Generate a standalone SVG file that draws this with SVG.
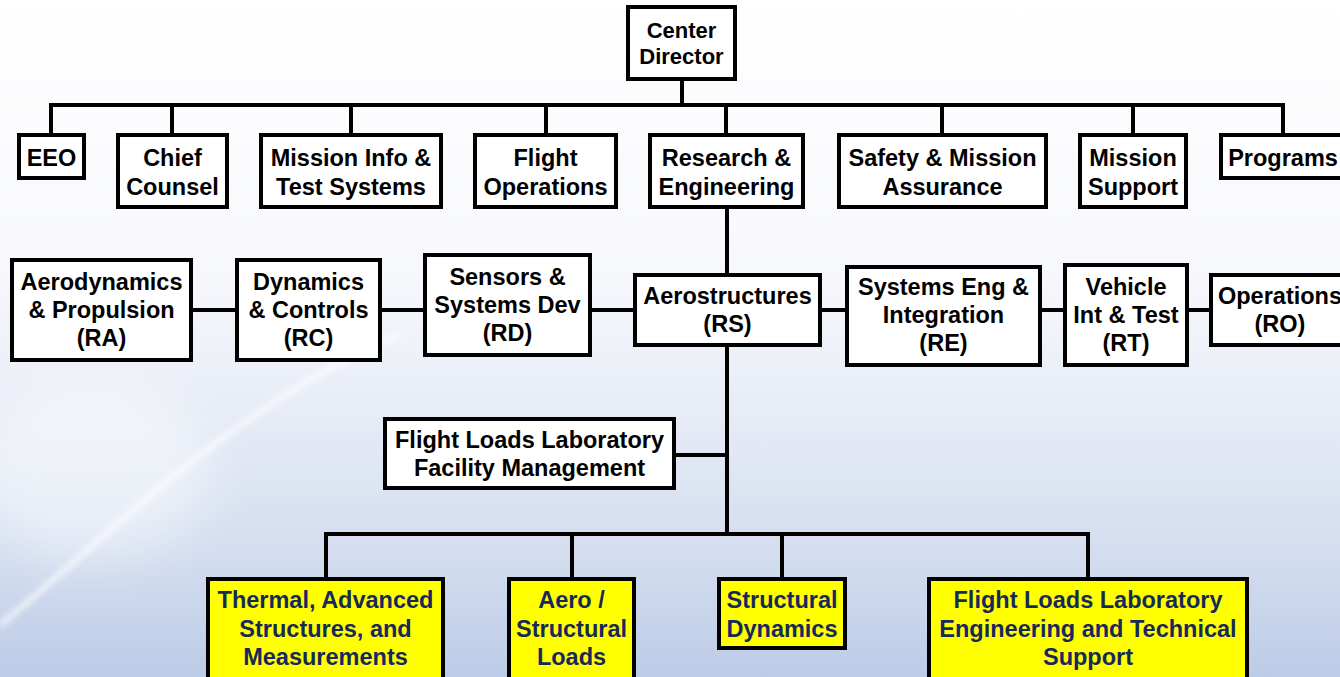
<svg xmlns="http://www.w3.org/2000/svg" width="1340" height="677" viewBox="0 0 1340 677">
<style>
.box{fill:#ffffff;stroke:#000000;stroke-width:4}
.ybox{fill:#ffff00;stroke:#000000;stroke-width:4}
.ln{stroke:#000000;stroke-width:4;fill:none;stroke-linecap:square}
text{font-family:"Liberation Sans",Arial,sans-serif;font-weight:bold;font-size:23.5px;text-anchor:middle;fill:#000000}
.yt{fill:#17295a}
.cd{font-size:22px}
</style>
<defs>
<linearGradient id="bg" x1="0" y1="0" x2="0" y2="1">
<stop offset="0" stop-color="#ffffff"/>
<stop offset="0.4" stop-color="#f7f8fc"/>
<stop offset="0.62" stop-color="#e6ebf5"/>
<stop offset="0.82" stop-color="#d3ddef"/>
<stop offset="1" stop-color="#bccbe7"/>
</linearGradient>
<filter id="blur" x="-20%" y="-20%" width="140%" height="140%"><feGaussianBlur stdDeviation="3"/></filter>
<filter id="blur2" x="-50%" y="-50%" width="200%" height="200%"><feGaussianBlur stdDeviation="25"/></filter>
</defs>
<rect x="0" y="0" width="1340" height="677" fill="url(#bg)"/>
<ellipse cx="90" cy="470" rx="120" ry="90" fill="#ffffff" opacity="0.45" filter="url(#blur2)"/>
<path d="M0,625 C80,560 170,470 270,405 C320,372 360,350 400,335" stroke="#ffffff" stroke-width="5" fill="none" opacity="0.8" filter="url(#blur)"/>

<g id="connectors">
<polyline class="ln" points="682,81 682,105"/>
<polyline class="ln" points="51,133 51,105 1283,105 1283,133"/>
<line class="ln" x1="172" y1="105" x2="172" y2="133"/>
<line class="ln" x1="351" y1="105" x2="351" y2="133"/>
<line class="ln" x1="546" y1="105" x2="546" y2="133"/>
<line class="ln" x1="726" y1="105" x2="726" y2="133"/>
<line class="ln" x1="942" y1="105" x2="942" y2="133"/>
<line class="ln" x1="1133" y1="105" x2="1133" y2="133"/>
<line class="ln" x1="727" y1="209" x2="727" y2="534"/>
<line class="ln" x1="193" y1="310" x2="235" y2="310"/>
<line class="ln" x1="382" y1="310" x2="423" y2="310"/>
<line class="ln" x1="592" y1="310" x2="633" y2="310"/>
<line class="ln" x1="822" y1="310" x2="845" y2="310"/>
<line class="ln" x1="1042" y1="310" x2="1063" y2="310"/>
<line class="ln" x1="1189" y1="310" x2="1209" y2="310"/>
<line class="ln" x1="676" y1="455" x2="727" y2="455"/>
<polyline class="ln" points="326,577 326,534 1088,534 1088,577"/>
<line class="ln" x1="572" y1="534" x2="572" y2="577"/>
<line class="ln" x1="782" y1="534" x2="782" y2="577"/>
</g>

<g id="center-director"><rect class="box" x="628" y="7" width="107" height="72"/><text class="cd" x="681.5" y="38">Center</text><text class="cd" x="681.5" y="64">Director</text></g>

<g id="eeo"><rect class="box" x="19" y="135" width="65" height="43"/><text x="51.5" y="166">EEO</text></g>
<g id="chief-counsel"><rect class="box" x="118" y="135" width="109" height="72"/><text x="172.5" y="166">Chief</text><text x="172.5" y="195">Counsel</text></g>
<g id="mission-info"><rect class="box" x="261" y="135" width="180" height="72"/><text x="351" y="166">Mission Info &amp;</text><text x="351" y="195">Test Systems</text></g>
<g id="flight-operations"><rect class="box" x="475" y="135" width="141" height="72"/><text x="545.5" y="166">Flight</text><text x="545.5" y="195">Operations</text></g>
<g id="research-engineering"><rect class="box" x="650" y="135" width="153" height="72"/><text x="726.5" y="166">Research &amp;</text><text x="726.5" y="195">Engineering</text></g>
<g id="safety-mission"><rect class="box" x="839" y="135" width="207" height="72"/><text x="942.5" y="166">Safety &amp; Mission</text><text x="942.5" y="195">Assurance</text></g>
<g id="mission-support"><rect class="box" x="1080" y="135" width="106" height="72"/><text x="1133" y="166">Mission</text><text x="1133" y="195">Support</text></g>
<g id="programs"><rect class="box" x="1221" y="135" width="124" height="43"/><text x="1283" y="166">Programs</text></g>

<g id="ra"><rect class="box" x="12" y="260" width="179" height="100"/><text x="101.5" y="290">Aerodynamics</text><text x="101.5" y="318">&amp; Propulsion</text><text x="101.5" y="346">(RA)</text></g>
<g id="rc"><rect class="box" x="237" y="260" width="143" height="100"/><text x="308.5" y="290">Dynamics</text><text x="308.5" y="318">&amp; Controls</text><text x="308.5" y="346">(RC)</text></g>
<g id="rd"><rect class="box" x="425" y="255" width="165" height="100"/><text x="507.5" y="285">Sensors &amp;</text><text x="507.5" y="313">Systems Dev</text><text x="507.5" y="341">(RD)</text></g>
<g id="rs"><rect class="box" x="635" y="275" width="185" height="70"/><text x="727.5" y="304">Aerostructures</text><text x="727.5" y="332">(RS)</text></g>
<g id="re"><rect class="box" x="847" y="267" width="193" height="98"/><text x="943.5" y="295">Systems Eng &amp;</text><text x="943.5" y="323">Integration</text><text x="943.5" y="351">(RE)</text></g>
<g id="rt"><rect class="box" x="1065" y="265" width="122" height="100"/><text x="1126" y="295">Vehicle</text><text x="1126" y="323">Int &amp; Test</text><text x="1126" y="351">(RT)</text></g>
<g id="ro"><rect class="box" x="1211" y="275" width="138" height="70"/><text x="1280" y="304">Operations</text><text x="1280" y="332">(RO)</text></g>

<g id="fll-facility"><rect class="box" x="385" y="419" width="289" height="69"/><text x="529.5" y="448">Flight Loads Laboratory</text><text x="529.5" y="476">Facility Management</text></g>

<g id="thermal"><rect class="ybox" x="208" y="579" width="235" height="110"/><text class="yt" x="325.5" y="608">Thermal, Advanced</text><text class="yt" x="325.5" y="636.5">Structures, and</text><text class="yt" x="325.5" y="665">Measurements</text></g>
<g id="aero-structural"><rect class="ybox" x="509" y="579" width="125" height="110"/><text class="yt" x="571.5" y="608">Aero /</text><text class="yt" x="571.5" y="636.5">Structural</text><text class="yt" x="571.5" y="665">Loads</text></g>
<g id="structural-dynamics"><rect class="ybox" x="719" y="579" width="126" height="69"/><text class="yt" x="782" y="608">Structural</text><text class="yt" x="782" y="636.5">Dynamics</text></g>
<g id="fll-engineering"><rect class="ybox" x="929" y="579" width="318" height="110"/><text class="yt" x="1088" y="608">Flight Loads Laboratory</text><text class="yt" x="1088" y="636.5">Engineering and Technical</text><text class="yt" x="1088" y="665">Support</text></g>
</svg>
